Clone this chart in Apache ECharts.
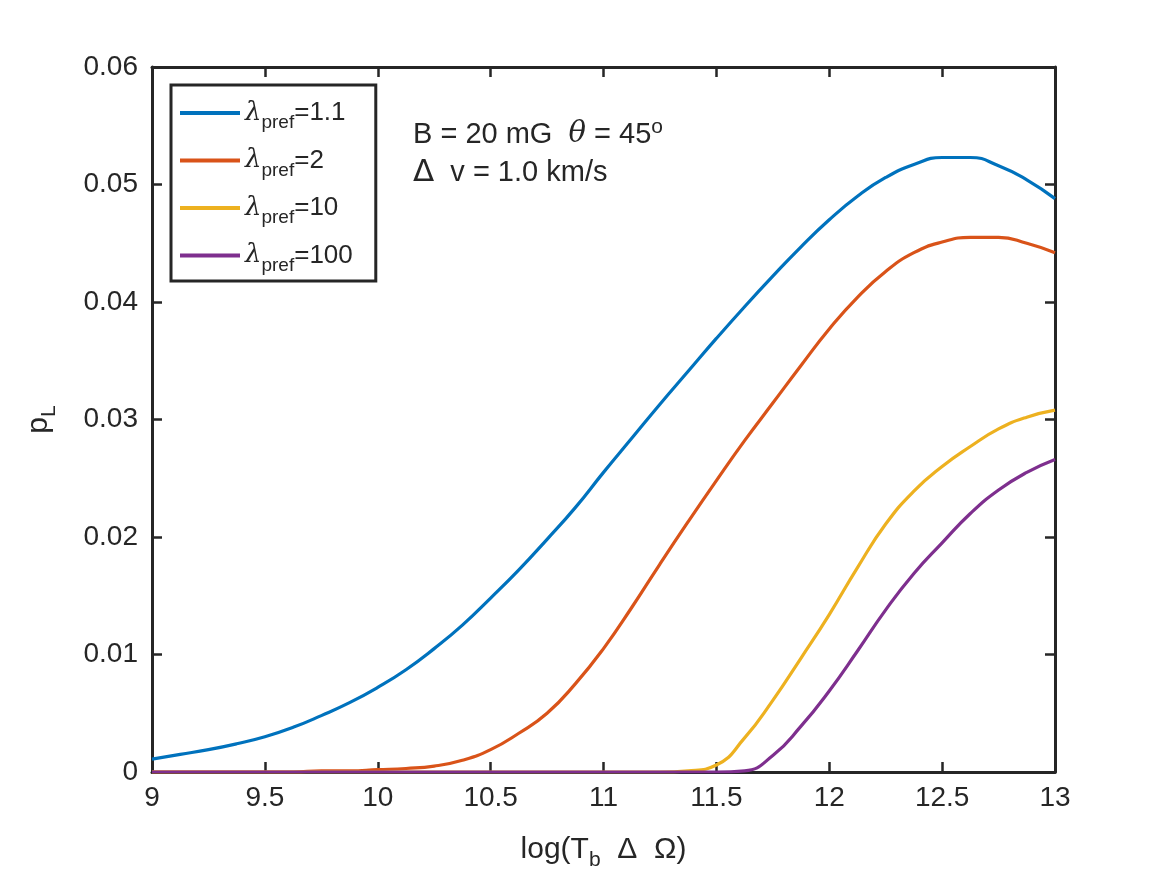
<!DOCTYPE html>
<html>
<head>
<meta charset="utf-8">
<script src="https://cdn.jsdelivr.net/npm/echarts@6/dist/echarts.min.js"></script>
<style>
  html, body { margin: 0; padding: 0; background: #fff; }
  #main { width: 1167px; height: 875px; }
</style>
</head>
<body>
<div id="main"></div>
<script>
// x grid: log(Tb dOmega)
var xs = [9, 9.125, 9.25, 9.375, 9.5, 9.625, 9.75, 9.875, 10, 10.125, 10.25, 10.375, 10.5, 10.625, 10.75, 10.875,
          11, 11.125, 11.25, 11.375, 11.5, 11.625, 11.75, 11.875, 12, 12.125, 12.25, 12.375, 12.5, 12.625, 12.75, 12.875, 13];
// p_L for each lambda_pref
var pLambda1p1 = [0.0011, 0.0015, 0.0019, 0.0024, 0.0030, 0.0038, 0.0048, 0.0059, 0.0072, 0.0087, 0.0105, 0.0125, 0.0148, 0.0172, 0.0198, 0.0225,
                  0.0255, 0.0284, 0.0313, 0.0341, 0.0369, 0.0396, 0.0422, 0.0447, 0.0470, 0.0490, 0.0506, 0.0517, 0.0523, 0.0523, 0.0516, 0.0504, 0.0488];
var pLambda2   = [0, 0, 0, 0, 0, 0, 0.0001, 0.0001, 0.0002, 0.0003, 0.0005, 0.0010, 0.0019, 0.0033, 0.0050, 0.0075,
                  0.0105, 0.0140, 0.0177, 0.0213, 0.0248, 0.0282, 0.0314, 0.0346, 0.0377, 0.0404, 0.0426, 0.0442, 0.0451, 0.0455, 0.0455, 0.0450, 0.0442];
var pLambda10  = [0, 0, 0, 0, 0, 0, 0, 0, 0, 0, 0, 0, 0, 0, 0, 0,
                  0, 0, 0, 0.0001, 0.0006, 0.0029, 0.0061, 0.0097, 0.0134, 0.0174, 0.0211, 0.0239, 0.0260, 0.0277, 0.0292, 0.0302, 0.0308];
var pLambda100 = [0, 0, 0, 0, 0, 0, 0, 0, 0, 0, 0, 0, 0, 0, 0, 0,
                  0, 0, 0, 0, 0, 0.0001, 0.0014, 0.0039, 0.0069, 0.0103, 0.0138, 0.0169, 0.0195, 0.0220, 0.0240, 0.0255, 0.0266];
var seriesNames = ['1.1', '2', '10', '100'];
var seriesData = [pLambda1p1, pLambda2, pLambda10, pLambda100];
var colors = ['#0072BD', '#D95319', '#EDB120', '#7E2F8E'];

var font = 'Liberation Sans, Arial, Helvetica, sans-serif';
var axisCol = '#262626';

var chart = echarts.init(document.getElementById('main'));

var series = [];
for (var i = 0; i < seriesData.length; i++) {
    var pts = [];
    for (var j = 0; j < xs.length; j++) pts.push([xs[j], seriesData[i][j]]);
    series.push({
        name: seriesNames[i],
        type: 'line',
        data: pts,
        smooth: 0.5,
        symbol: 'none',
        lineStyle: { width: 3.2, color: colors[i] },
        itemStyle: { color: colors[i] },
        z: 3 + i
    });
}

var tickStyle = { inside: true, length: 10, lineStyle: { color: axisCol, width: 2.5 } };

var option = {
    animation: false,
    backgroundColor: '#fff',
    color: colors,
    grid: { left: 152, right: 112, top: 67, bottom: 103, show: false, containLabel: false, outerBoundsMode: 'none' },
    xAxis: [{
        type: 'value', min: 9, max: 13, interval: 0.5,
        axisLine: { show: true, onZero: false, lineStyle: { color: axisCol, width: 3 } },
        axisTick: tickStyle,
        splitLine: { show: false },
        axisLabel: { color: axisCol, fontSize: 28, fontFamily: font, margin: 12 },
        name: '{a|log(T}{s|b}{a|  Δ  Ω)}',
        nameLocation: 'middle', nameGap: 56,
        nameTextStyle: {
            rich: {
                a: { fontSize: 30, fontFamily: font, color: axisCol },
                s: { fontSize: 21, fontFamily: font, color: axisCol, padding: [22, 0, 0, 0] }
            }
        }
    }, {
        type: 'value', min: 9, max: 13, interval: 0.5, position: 'top',
        axisLine: { show: true, onZero: false, lineStyle: { color: axisCol, width: 3 } },
        axisTick: tickStyle, axisLabel: { show: false }, splitLine: { show: false }
    }],
    yAxis: [{
        type: 'value', min: 0, max: 0.06, interval: 0.01,
        axisLine: { show: true, onZero: false, lineStyle: { color: axisCol, width: 3 } },
        axisTick: tickStyle,
        splitLine: { show: false },
        axisLabel: { color: axisCol, fontSize: 28, fontFamily: font, margin: 14 },
        name: '{a|p}{s|L}',
        nameLocation: 'middle', nameGap: 92, nameRotate: 90,
        nameTextStyle: {
            rich: {
                a: { fontSize: 30, fontFamily: font, color: axisCol },
                s: { fontSize: 21, fontFamily: font, color: axisCol, padding: [22, 0, 0, 0] }
            }
        }
    }, {
        type: 'value', min: 0, max: 0.06, interval: 0.01, position: 'right',
        axisLine: { show: true, onZero: false, lineStyle: { color: axisCol, width: 3 } },
        axisTick: tickStyle, axisLabel: { show: false }, splitLine: { show: false }
    }],
    legend: {
        orient: 'vertical',
        left: 171, top: 85,
        padding: [15, 23, 6, 9],
        itemGap: 15,
        itemWidth: 60, itemHeight: 4,
        icon: 'rect',
        backgroundColor: '#fff',
        borderColor: axisCol, borderWidth: 3, borderRadius: 0,
        data: seriesNames,
        formatter: function (name) { return '{l|λ}{s|pref}{a|=' + name + '}'; },
        textStyle: {
            padding: [0, 0, 0, 0],
            rich: {
                l: { fontSize: 26, fontFamily: 'DejaVu Serif, serif', fontStyle: 'italic', color: axisCol },
                s: { fontSize: 19, fontFamily: font, color: axisCol, padding: [20, 0, 0, 0] },
                a: { fontSize: 26, fontFamily: font, color: axisCol }
            }
        }
    },
    graphic: [{
        type: 'text', left: 413, top: 117,
        style: {
            text: '{a|B = 20 mG  }{t|θ}{a| = 45}{o|o}',
            rich: {
                a: { fontSize: 29, fontFamily: font, fill: axisCol },
                t: { fontSize: 29, fontFamily: 'DejaVu Serif, serif', fontStyle: 'italic', fill: axisCol },
                o: { fontSize: 21, fontFamily: font, fill: axisCol, padding: [0, 0, 14, 0] }
            }
        }
    }, {
        type: 'text', left: 413, top: 157,
        style: {
            text: '{d|Δ}{a|  v = 1.0 km/s}',
            rich: {
                d: { fontSize: 31, fontFamily: 'DejaVu Sans, sans-serif', fill: axisCol },
                a: { fontSize: 29, fontFamily: font, fill: axisCol }
            }
        }
    }],
    series: series
};
chart.setOption(option);
</script>
</body>
</html>
